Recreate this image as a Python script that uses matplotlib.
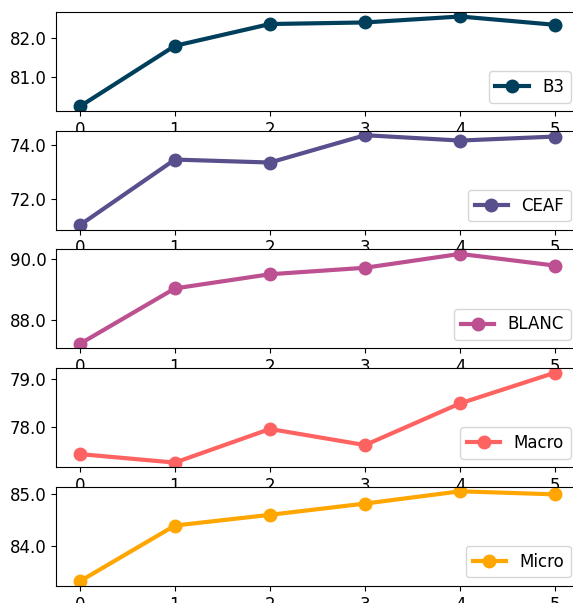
import matplotlib
matplotlib.use("Agg")
import matplotlib.pyplot as plt
from matplotlib.ticker import MultipleLocator, FormatStrFormatter

x = [0, 1, 2, 3, 4, 5]

names = ["B3", "CEAF", "BLANC", "Macro", "Micro"]
b3 = [80.26, 81.79, 82.34, 82.38, 82.53, 82.32]
ceaf = [71.02, 73.47, 73.36, 74.38, 74.18, 74.33]
blanc = [87.24, 89.04, 89.50, 89.71, 90.16, 89.78]
macro = [77.42, 77.24, 77.95, 77.61, 78.49, 79.14]
micro = [83.30, 84.39, 84.60, 84.82, 85.06, 85.00]
series = [b3, ceaf, blanc, macro, micro]

colors = ["#003f5c", "#58508d", "#bc5090", "#ff6361", "#ffa600"]
ystep = [1.0, 2.0, 2.0, 1.0, 1.0]

W, H = 573, 603
fig = plt.figure(figsize=(W / 100, H / 100), dpi=100)

left = 56
right = 579
top0 = 12
step = 118.7
h = 99

for i in range(5):
    top = top0 + i * step
    ax = fig.add_axes([left / W, 1 - (top + h) / H, (right - left) / W, h / H])
    ax.plot(x, series[i], color=colors[i], lw=3, marker="o", ms=9, label=names[i])
    ax.yaxis.set_major_locator(MultipleLocator(ystep[i]))
    ax.yaxis.set_major_formatter(FormatStrFormatter("%.1f"))
    ax.set_xticks(x)
    ax.tick_params(labelsize=12)
    ax.legend(loc="lower right", fontsize=12)

fig.savefig("out.png", dpi=100)
